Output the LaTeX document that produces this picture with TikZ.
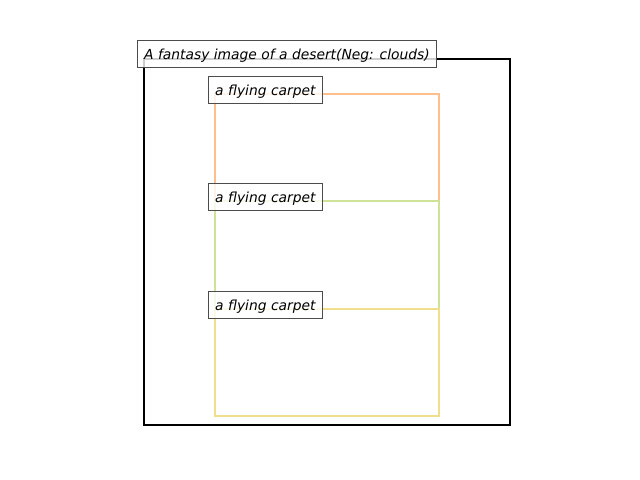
\documentclass[tikz,border=0pt]{standalone}
\usepackage{fontspec}
\setmainfont{DejaVu Sans}
\usetikzlibrary{positioning}
\definecolor{carpetorange}{RGB}{255,190,140}
\definecolor{carpetgreen}{RGB}{208,226,152}
\definecolor{carpetyellow}{RGB}{240,222,140}

\begin{document}
\begin{tikzpicture}[x=0.254mm,y=-0.254mm,
    labelbox/.style={draw=black!70, line width=0.8pt, fill=white, fill opacity=0.8, text opacity=1,
        font=\itshape, inner xsep=4.8pt, inner ysep=0pt, text height=9pt, text depth=1pt,
        minimum height=20pt, anchor=west},
    carpet/.style={line width=1.6pt}]
        \useasboundingbox (0,0) rectangle (640,480);

        % 1. Outer desert frame
        \draw[black, line width=1.9pt] (144,59) rectangle (510,425);

        % 2. Carpet frames
        \draw[carpetorange, carpet] (215,94) rectangle (439,201);
        \draw[carpetgreen, carpet] (215,201) rectangle (439,309);
        \draw[carpetyellow, carpet] (215,309) rectangle (439,416);

        % 3. Labels
        \node[labelbox] (desert) at (137,54) {A fantasy image of a desert(Neg: clouds)};
        \foreach \y/\name in {90/carpetA, 197/carpetB, 305/carpetC}
            \node[labelbox] (\name) at (208,\y) {a flying carpet};
    \end{tikzpicture}
\end{document}
